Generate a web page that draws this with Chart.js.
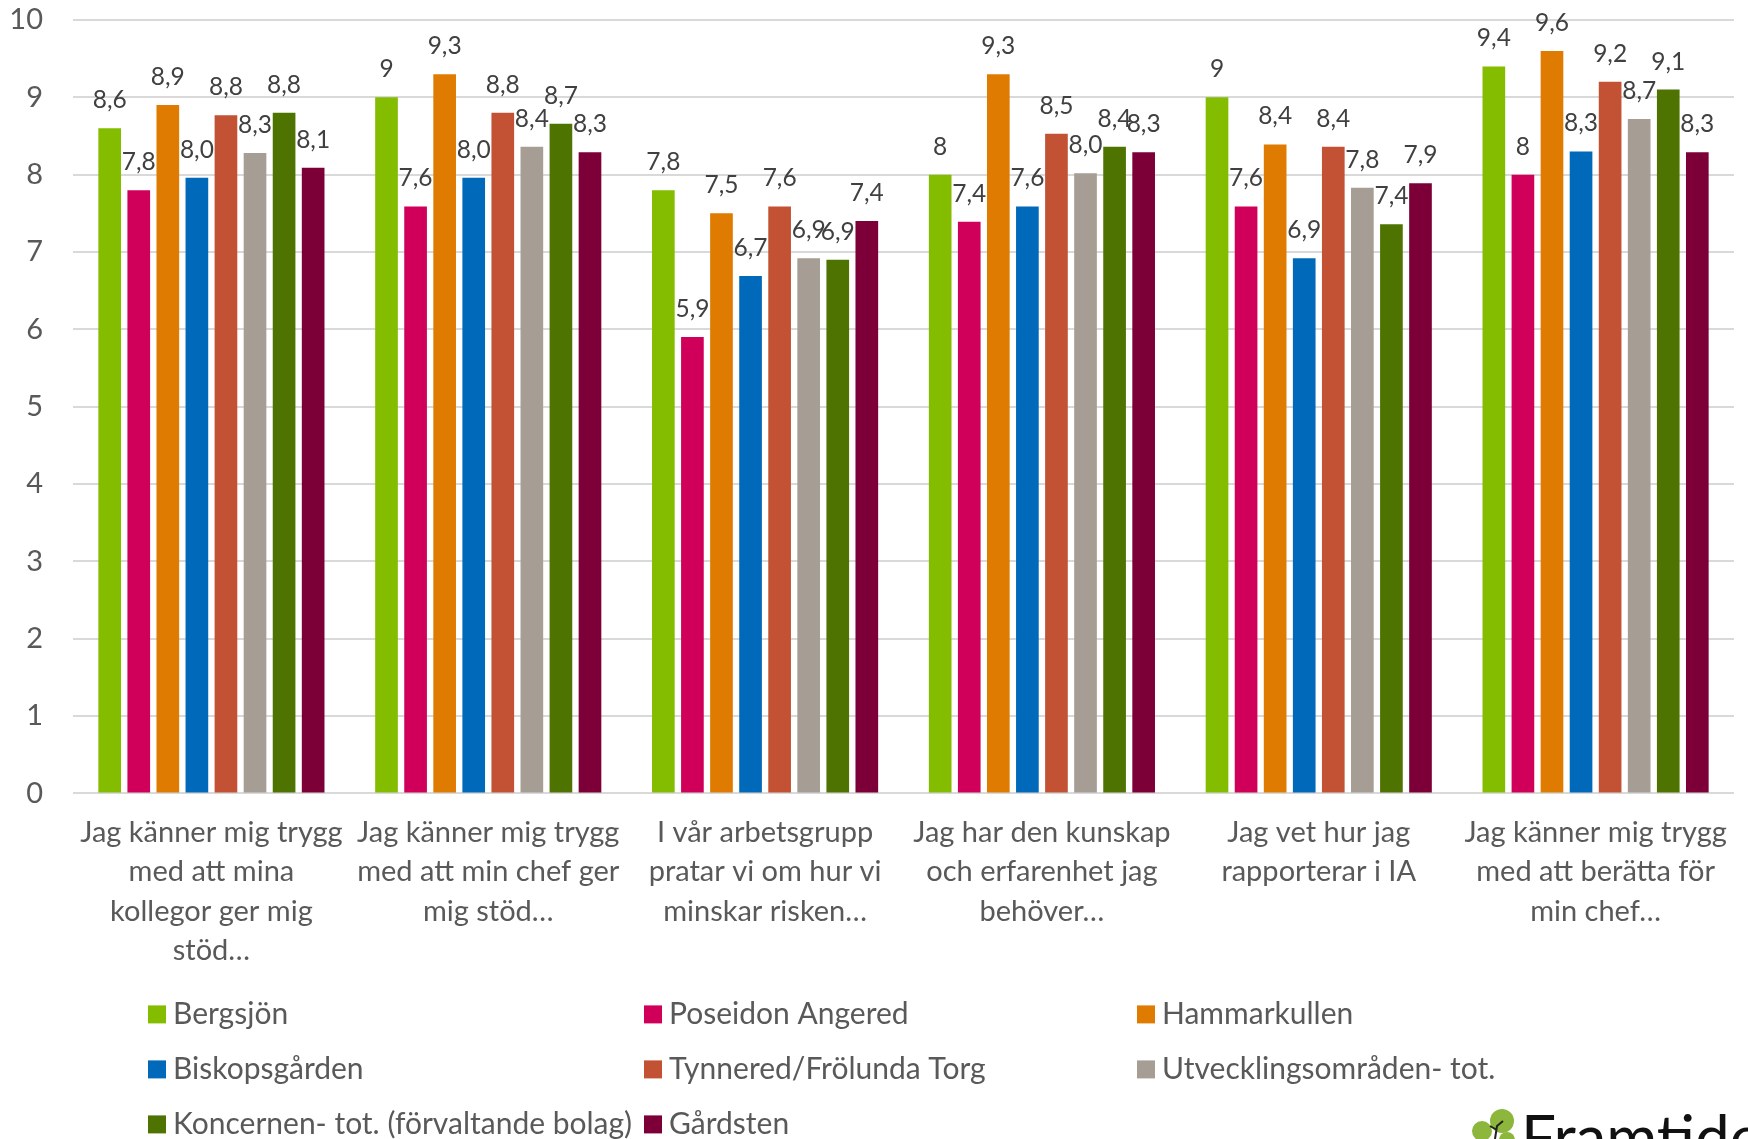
<!DOCTYPE html>
<html>
<head>
<meta charset="utf-8">
<script src="https://cdn.jsdelivr.net/npm/chart.js@4/dist/chart.umd.min.js"></script>
<style>
  html, body { margin: 0; padding: 0; background: #fff; }
  #wrap { width: 1748px; height: 1139px; }
</style>
</head>
<body>
<div id="wrap"><canvas id="myChart" width="1748" height="1139"></canvas></div>
<script>
// categories (already wrapped as in the original)
const questions = [
  ['Jag känner mig trygg', 'med att mina', 'kollegor ger mig', 'stöd…'],
  ['Jag känner mig trygg', 'med att min chef ger', 'mig stöd…'],
  ['I vår arbetsgrupp', 'pratar vi om hur vi', 'minskar risken…'],
  ['Jag har den kunskap', 'och erfarenhet jag', 'behöver…'],
  ['Jag vet hur jag', 'rapporterar i IA'],
  ['Jag känner mig trygg', 'med att berätta för', 'min chef…']
];

const areaNames = [
  'Bergsjön', 'Poseidon Angered', 'Hammarkullen',
  'Biskopsgården', 'Tynnered/Frölunda Torg', 'Utvecklingsområden- tot.',
  'Koncernen- tot. (förvaltande bolag)', 'Gårdsten'
];
const areaColors = ['#84bd00', '#d0005a', '#df7b00', '#0069ba', '#c35133', '#a69d94', '#4e7300', '#7c0037'];

// one array per series, one value per question
const bergsjon      = [8.6, 9, 7.8, 8, 9, 9.4];
const poseidon      = [7.8, 7.59, 5.9, 7.39, 7.59, 8];
const hammarkullen  = [8.9, 9.3, 7.5, 9.3, 8.39, 9.6];
const biskopsgarden = [7.96, 7.96, 6.69, 7.59, 6.92, 8.3];
const tynnered      = [8.77, 8.8, 7.59, 8.53, 8.36, 9.2];
const utveckling    = [8.28, 8.36, 6.92, 8.02, 7.83, 8.72];
const koncernen     = [8.8, 8.66, 6.9, 8.36, 7.36, 9.1];
const gardsten      = [8.09, 8.29, 7.4, 8.29, 7.89, 8.29];

const seriesValues = [bergsjon, poseidon, hammarkullen, biskopsgarden, tynnered, utveckling, koncernen, gardsten];

const yTicks = [0, 1, 2, 3, 4, 5, 6, 7, 8, 9, 10];

const FONT = 'Lato';
const textGrey = '#595959';

function fmt(v) {
  if (Number.isInteger(v)) return String(v);
  return v.toFixed(1).replace('.', ',');
}

const data = {
  labels: questions,
  datasets: areaNames.map((name, i) => ({
    label: name,
    data: seriesValues[i],
    backgroundColor: areaColors[i],
    borderWidth: 0,
    categoryPercentage: 0.84,
    barPercentage: 0.78
  }))
};

// value labels above each bar
const valueLabels = {
  id: 'valueLabels',
  afterDatasetsDraw(chart) {
    const ctx = chart.ctx;
    ctx.save();
    ctx.font = '24.5px ' + FONT;
    ctx.fillStyle = '#404040';
    ctx.textAlign = 'center';
    ctx.textBaseline = 'middle';
    chart.data.datasets.forEach((ds, i) => {
      chart.getDatasetMeta(i).data.forEach((bar, j) => {
        ctx.fillText(fmt(ds.data[j]), bar.x, bar.y - 28);
      });
    });
    ctx.restore();
  }
};

// legend in three fixed columns, like the original
const gridLegend = {
  id: 'gridLegend',
  afterDraw(chart) {
    const ctx = chart.ctx;
    const area = chart.chartArea;
    const colX = [area.left + 75, area.left + 571, area.left + 1064];
    const rowY = [area.bottom + 221, area.bottom + 276, area.bottom + 331];
    ctx.save();
    ctx.font = '30px ' + FONT;
    ctx.textBaseline = 'middle';
    ctx.textAlign = 'left';
    chart.data.datasets.forEach((ds, i) => {
      const x = colX[i % 3];
      const y = rowY[Math.floor(i / 3)];
      ctx.fillStyle = ds.backgroundColor;
      ctx.fillRect(x, y - 9, 18, 18);
      ctx.fillStyle = textGrey;
      ctx.fillText(ds.label, x + 25, y);
    });
    ctx.restore();
  }
};

// the cropped company logo in the bottom right corner
const logo = {
  id: 'logo',
  afterDraw(chart) {
    const ctx = chart.ctx;
    ctx.save();
    ctx.fillStyle = '#8db63c';
    [[1502, 1121, 12], [1482, 1131, 10], [1507, 1140, 8]].forEach(c => {
      ctx.beginPath();
      ctx.arc(c[0], c[1], c[2], 0, Math.PI * 2);
      ctx.fill();
    });
    ctx.strokeStyle = '#222';
    ctx.lineWidth = 2;
    ctx.beginPath();
    ctx.moveTo(1495, 1139); ctx.lineTo(1497, 1126); ctx.lineTo(1503, 1121);
    ctx.moveTo(1497, 1130); ctx.lineTo(1490, 1126);
    ctx.stroke();
    ctx.fillStyle = '#111';
    ctx.font = '62px ' + FONT;
    ctx.textBaseline = 'alphabetic';
    ctx.fillText('Framtiden', 1521, 1160);
    ctx.restore();
  }
};

const ctx = document.getElementById('myChart');

new Chart(ctx, {
  type: 'bar',
  data: data,
  plugins: [valueLabels, gridLegend, logo],
  options: {
    responsive: false,
    animation: false,
    layout: {
      padding: { top: 20, right: 14, bottom: 157, left: 0 }
    },
    plugins: {
      legend: { display: false },
      tooltip: { enabled: false }
    },
    scales: {
      x: {
        grid: { display: false },
        border: { display: false },
        ticks: {
          color: textGrey,
          font: { family: FONT, size: 29, lineHeight: 1.35 },
          padding: 12,
          maxRotation: 0,
          autoSkip: false
        }
      },
      y: {
        min: 0,
        max: 10,
        afterBuildTicks(scale) {
          scale.ticks = yTicks.map(v => ({ value: v }));
        },
        afterFit(scale) {
          scale.width = 73;
          scale.paddingTop = 0;
          scale.paddingBottom = 0;
        },
        grid: { color: '#d9d9d9', lineWidth: 2, drawTicks: false },
        border: { display: false },
        ticks: {
          color: textGrey,
          font: { family: FONT, size: 29 },
          padding: 30
        }
      }
    }
  }
});
</script>
</body>
</html>
